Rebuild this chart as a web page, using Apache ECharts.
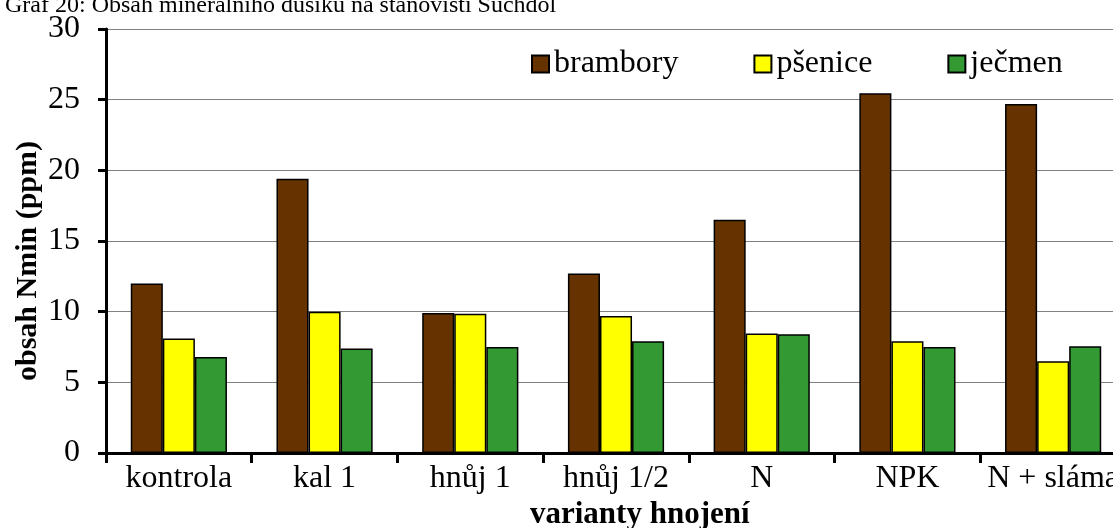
<!DOCTYPE html>
<html>
<head>
<meta charset="utf-8">
<script src="https://cdn.jsdelivr.net/npm/echarts@6/dist/echarts.min.js"></script>
<style>
html,body{margin:0;padding:0;background:#fff;}
#chart{width:1113px;height:528px;}
</style>
</head>
<body>
<div id="chart"></div>
<script>
const categories = ['kontrola', 'kal 1', 'hnůj 1', 'hnůj 1/2', 'N', 'NPK', 'N + sláma'];
const seriesNames = ['brambory', 'pšenice', 'ječmen'];
const brambory = [12.0, 19.4, 9.9, 12.7, 16.5, 25.45, 24.7];
const psenice = [8.1, 10.0, 9.85, 9.7, 8.45, 7.9, 6.5];
const jecmen = [6.8, 7.4, 7.5, 7.9, 8.4, 7.5, 7.55];
const yTicks = [0, 5, 10, 15, 20, 25, 30];
const titleText = 'Graf 20: Obsah minerálního dusíku na stanovišti Suchdol';
const yTitle = 'obsah Nmin (ppm)';
const xTitle = 'varianty hnojení';

const FONT = "'Liberation Serif', 'Times New Roman', serif";
const colors = ['#663300', '#FFFF00', '#339933'];
const values = [brambory, psenice, jecmen];

const chart = echarts.init(document.getElementById('chart'), null, {renderer: 'canvas'});
chart.setOption({
  animation: false,
  backgroundColor: '#ffffff',
  textStyle: {fontFamily: FONT, color: '#000'},
  title: [
    {text: titleText, left: 0, top: -11, textStyle: {fontFamily: FONT, fontSize: 24, fontWeight: 'normal', color: '#000'}},
    {text: xTitle, left: 530, top: 499, padding: 0, textStyle: {fontFamily: FONT, fontSize: 31, fontWeight: 'bold', color: '#000'}}
  ],
  graphic: [{
    type: 'text', x: 28, y: 261, rotation: Math.PI / 2,
    style: {text: yTitle, font: "bold 30px 'Liberation Serif', 'Times New Roman', serif", fill: '#000', align: 'center', verticalAlign: 'middle'}
  }],
  legend: {
    left: 531, top: 48, padding: 0,
    itemWidth: 17, itemHeight: 17, itemGap: 75,
    icon: 'rect',
    textStyle: {fontFamily: FONT, fontSize: 32, color: '#000'},
    data: seriesNames
  },
  grid: {left: 106, width: 1020, top: 29, height: 424, containLabel: false, outerBoundsMode: 'none'},
  xAxis: {
    type: 'category', data: categories,
    axisLine: {lineStyle: {color: '#000', width: 3}},
    axisTick: {show: true, length: 10, lineStyle: {color: '#000', width: 3}},
    axisLabel: {fontFamily: FONT, fontSize: 32, color: '#000', margin: 10, interval: 0},
    splitLine: {show: false}
  },
  yAxis: {
    type: 'value', min: yTicks[0], max: yTicks[yTicks.length - 1], interval: 5,
    axisLine: {show: true, lineStyle: {color: '#000', width: 3}},
    axisTick: {show: true, length: 8, lineStyle: {color: '#000', width: 3}},
    axisLabel: {fontFamily: FONT, fontSize: 32, color: '#000', margin: 26},
    splitLine: {show: true, lineStyle: {color: '#808080', width: 1}}
  },
  series: seriesNames.map((n, i) => ({
    name: n, type: 'bar', data: values[i],
    barGap: '0%', barCategoryGap: '34%',
    itemStyle: {color: colors[i], borderColor: '#000', borderWidth: 1.5}
  }))
});
</script>
</body>
</html>
